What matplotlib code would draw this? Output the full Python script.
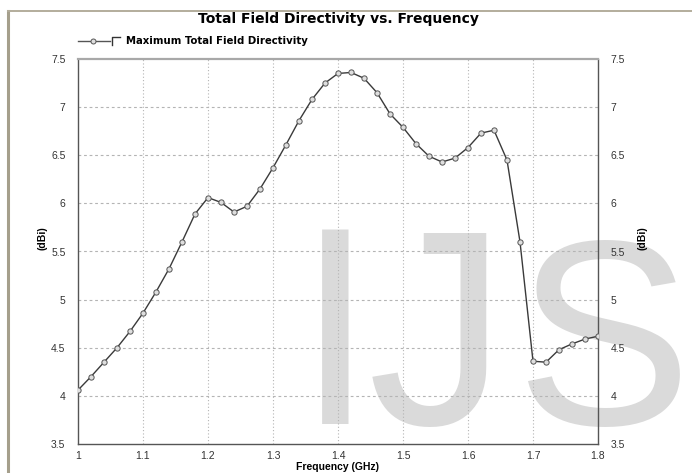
import numpy as np
import matplotlib.pyplot as plt
from matplotlib.lines import Line2D

plt.rcParams['font.family'] = ['Liberation Sans', 'DejaVu Sans']

# frequency samples (GHz) and directivity (dBi)
freq = [1.00, 1.02, 1.04, 1.06, 1.08, 1.10, 1.12, 1.14, 1.16, 1.18,
        1.20, 1.22, 1.24, 1.26, 1.28, 1.30, 1.32, 1.34, 1.36, 1.38,
        1.40, 1.42, 1.44, 1.46, 1.48, 1.50, 1.52, 1.54, 1.56, 1.58,
        1.60, 1.62, 1.64, 1.66, 1.68, 1.70, 1.72, 1.74, 1.76, 1.78, 1.80]
directivity = [4.06, 4.20, 4.35, 4.50, 4.67, 4.86, 5.08, 5.32, 5.60, 5.89,
               6.06, 6.01, 5.91, 5.97, 6.15, 6.37, 6.61, 6.86, 7.08, 7.25,
               7.35, 7.36, 7.30, 7.15, 6.93, 6.79, 6.62, 6.49, 6.43, 6.47,
               6.58, 6.73, 6.76, 6.45, 5.60, 4.36, 4.35, 4.48, 4.54, 4.59, 4.62]

x_ticks = [1.0, 1.1, 1.2, 1.3, 1.4, 1.5, 1.6, 1.7, 1.8]
x_tick_labels = ['1', '1.1', '1.2', '1.3', '1.4', '1.5', '1.6', '1.7', '1.8']
y_ticks = [3.5, 4, 4.5, 5, 5.5, 6, 6.5, 7, 7.5]
y_tick_labels = ['3.5', '4', '4.5', '5', '5.5', '6', '6.5', '7', '7.5']

W, H = 692, 473
fig = plt.figure(figsize=(W / 100, H / 100), dpi=100)
ax = fig.add_axes([78 / W, 1 - 444 / H, (598 - 78) / W, (444 - 59) / H])

ax.plot(freq, directivity, color='#3a3a3a', lw=1.0, marker='o', ms=3.8,
        mfc='#dedede', mec='#555555', mew=0.7, zorder=3)

ax.set_xlim(1.0, 1.8)
ax.set_ylim(3.5, 7.5)
ax.set_xticks(x_ticks)
ax.set_xticklabels(x_tick_labels)
ax.set_yticks(y_ticks)
ax.set_yticklabels(y_tick_labels)
ax.tick_params(length=0, labelsize=7.5, colors='#333333')
ax.tick_params(axis='y', labelright=True, pad=9)
ax.tick_params(axis='x', pad=5)

# dotted grid, horizontal slightly longer dashes than vertical
for yv in y_ticks[1:-1]:
    ax.axhline(yv, color='#b4b4b4', lw=0.8, ls=(0, (2.5, 2.5)), zorder=0.5)
for xv in x_ticks[1:-1]:
    ax.axvline(xv, color='#b4b4b4', lw=0.8, ls=(0, (1, 2)), zorder=0.5)

for side in ['left', 'right', 'bottom']:
    ax.spines[side].set_color('#555555')
    ax.spines[side].set_linewidth(1.0)
ax.spines['top'].set_color('#a8a8a8')
ax.spines['top'].set_linewidth(1.6)

ax.set_xlabel('Frequency (GHz)', fontsize=7.5, fontweight='bold', labelpad=0.5)
fig.text(42 / W, 1 - 238 / H, '(dBi)', rotation=90, fontsize=7.5,
         fontweight='bold', ha='center', va='center')
fig.text(642 / W, 1 - 238 / H, '(dBi)', rotation=90, fontsize=7.5,
         fontweight='bold', ha='center', va='center')

fig.text(338 / W, 1 - 23 / H, 'Total Field Directivity vs. Frequency',
         fontsize=10, fontweight='bold', ha='center', va='baseline',
         family='DejaVu Sans')

# legend drawn by hand: line + marker, checkbox, bold label
ly = 1 - 41 / H
fig.add_artist(Line2D([78 / W, 110 / W], [ly, ly], color='#555555', lw=1.0))
fig.add_artist(Line2D([93 / W], [ly], marker='o', ms=3.6, mfc='#dedede',
                      mec='#555555', mew=0.7))
fig.add_artist(Line2D([112 / W, 112 / W, 120 / W],
                      [1 - 45 / H, 1 - 37 / H, 1 - 37 / H],
                      color='#333333', lw=1.0))
fig.text(126 / W, ly, 'Maximum Total Field Directivity', fontsize=7.3,
         fontweight='bold', ha='left', va='center', family='DejaVu Sans')

# screenshot window border
fig.add_artist(Line2D([8 / W, 8 / W], [0, 1 - 11 / H], color='#a59f8c', lw=2.2))
fig.add_artist(Line2D([8 / W, 1], [1 - 11 / H, 1 - 11 / H], color='#b3ad9c', lw=1.4))

# watermark letters, kept below grid and curve
for letter, cx, size in [('I', 335.5, 204), ('J', 437.5, 200), ('S', 604.5, 190)]:
    ax.text(cx / W, 1 - 424 / H, letter, transform=fig.transFigure,
            fontsize=size, color='#dadada', ha='center', va='baseline',
            zorder=0.1, clip_on=False)

fig.savefig('out.png', dpi=100)
